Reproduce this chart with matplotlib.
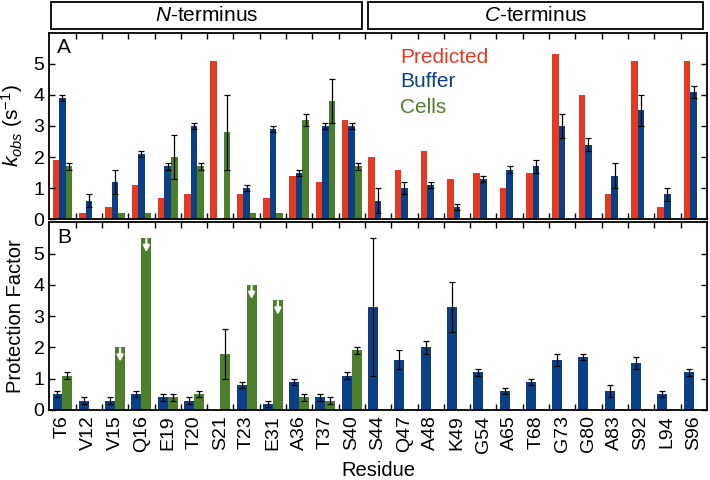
import matplotlib
matplotlib.use('Agg')
import matplotlib.pyplot as plt
from matplotlib.patches import Rectangle
import numpy as np

plt.rcParams['font.family'] = ['Liberation Sans', 'DejaVu Sans']
plt.rcParams['mathtext.fontset'] = 'custom'
plt.rcParams['mathtext.rm'] = 'Liberation Sans'
plt.rcParams['mathtext.it'] = 'Liberation Sans:italic'

residues = ['T6', 'V12', 'V15', 'Q16', 'E19', 'T20', 'S21', 'T23', 'E31', 'A36', 'T37', 'S40',
            'S44', 'Q47', 'A48', 'K49', 'G54', 'A65', 'T68', 'G73', 'G80', 'A83', 'S92', 'L94', 'S96']

# panel A: k_obs (s^-1)
k_pred = [1.9, 0.2, 0.4, 1.1, 0.7, 0.8, 5.1, 0.8, 0.7, 1.4, 1.2, 3.2,
          2.0, 1.6, 2.2, 1.3, 1.5, 1.0, 1.5, 5.3, 4.0, 0.8, 5.1, 0.4, 5.1]
k_buf = [3.9, 0.6, 1.2, 2.1, 1.7, 3.0, 0.0, 1.0, 2.9, 1.5, 3.0, 3.0,
         0.6, 1.0, 1.1, 0.4, 1.3, 1.6, 1.7, 3.0, 2.4, 1.4, 3.5, 0.8, 4.1]
k_buf_err = [0.1, 0.2, 0.4, 0.1, 0.1, 0.1, 0.0, 0.1, 0.1, 0.1, 0.1, 0.1,
             0.4, 0.2, 0.1, 0.1, 0.1, 0.1, 0.2, 0.4, 0.2, 0.4, 0.5, 0.2, 0.2]
k_cell = [1.7, 0.0, 0.2, 0.2, 2.0, 1.7, 2.8, 0.2, 0.2, 3.2, 3.8, 1.7]
k_cell_err = [0.1, 0.0, 0.0, 0.0, 0.7, 0.1, 1.2, 0.0, 0.0, 0.2, 0.7, 0.1]

# panel B: protection factor
pf_buf = [0.5, 0.3, 0.3, 0.5, 0.4, 0.3, 0.0, 0.8, 0.2, 0.9, 0.4, 1.1,
          3.3, 1.6, 2.0, 3.3, 1.2, 0.6, 0.9, 1.6, 1.7, 0.6, 1.5, 0.5, 1.2]
pf_buf_err = [0.1, 0.1, 0.1, 0.1, 0.1, 0.1, 0.0, 0.1, 0.1, 0.1, 0.1, 0.1,
              2.2, 0.3, 0.2, 0.8, 0.1, 0.1, 0.1, 0.2, 0.1, 0.2, 0.2, 0.1, 0.1]
pf_cell = [1.1, 0.0, 2.0, 5.5, 0.4, 0.5, 1.8, 4.0, 3.5, 0.4, 0.3, 1.9]
pf_cell_err = [0.1, 0.0, 0.0, 0.0, 0.1, 0.1, 0.8, 0.0, 0.0, 0.1, 0.1, 0.1]
# residues where the cells value is only an upper bound (arrow)
upper_bound = ['V15', 'Q16', 'T23', 'E31']

red = '#e53a22'
blue = '#0b3f86'
green = '#4c7f2b'

x = np.arange(len(residues))
xc = np.arange(len(k_cell))

fig = plt.figure(figsize=(7.1, 4.8), dpi=100)
ax1 = fig.add_axes([0.0695, 0.543, 0.926, 0.389])
ax2 = fig.add_axes([0.0695, 0.146, 0.926, 0.391])

err_kw = dict(fmt='none', ecolor='black', elinewidth=0.9, capsize=2.5, capthick=0.9)


def errbars(ax, xs, vals, errs):
    # only draw bars that have an error value
    xs, vals, errs = np.asarray(xs, float), np.asarray(vals), np.asarray(errs)
    m = errs > 0
    ax.errorbar(xs[m], vals[m], yerr=errs[m], **err_kw)


# panel A
w = 0.25
ax1.bar(x - w, k_pred, w, color=red)
ax1.bar(x, k_buf, w, color=blue)
errbars(ax1, x, k_buf, k_buf_err)
ax1.bar(xc + w, k_cell, w, color=green)
errbars(ax1, xc + w, k_cell, k_cell_err)

# panel B
w2 = 0.38
ax2.bar(x - w2 / 2, pf_buf, w2, color=blue)
errbars(ax2, x - w2 / 2, pf_buf, pf_buf_err)
ax2.bar(xc + w2 / 2, pf_cell, w2, color=green)
errbars(ax2, xc + w2 / 2, pf_cell, pf_cell_err)
for r in upper_bound:
    i = residues.index(r)
    top = pf_cell[i]
    ax2.annotate('', xy=(i + w2 / 2, top - 0.46), xytext=(i + w2 / 2, top - 0.03),
                 arrowprops=dict(arrowstyle='-|>', color='white', lw=1.6,
                                 mutation_scale=9, shrinkA=0, shrinkB=0))

for ax in (ax1, ax2):
    ax.set_xlim(-0.5, len(residues) - 0.5)
    ax.set_ylim(0, 6)
    ax.set_yticks(range(6))
    ax.set_xticks(x)
    ax.set_xticks(np.arange(len(residues) - 1) + 0.5, minor=True)
    ax.tick_params(axis='x', which='major', length=0)
    ax.tick_params(axis='x', which='minor', direction='in', length=4.5, width=1,
                   top=True, bottom=True)
    ax.tick_params(axis='y', direction='in', length=4.5, width=1, right=True,
                   labelsize=14)
    for s in ax.spines.values():
        s.set_linewidth(1.3)

ax1.set_xticklabels([])
ax2.set_xticklabels(residues, rotation=90, fontsize=14)
ax2.tick_params(axis='x', which='major', pad=4)

ax1.set_ylabel(r'$k_{obs}$ (s$^{-1}$)', fontsize=15, labelpad=6)
ax2.set_ylabel('Protection Factor', fontsize=14.5, labelpad=6)
ax2.set_xlabel('Residue', fontsize=14.5, labelpad=6)

ax1.text(0.012, 0.97, 'A', transform=ax1.transAxes, fontsize=15, va='top')
ax2.text(0.012, 0.97, 'B', transform=ax2.transAxes, fontsize=15, va='top')

ax1.text(0.533, 0.837, 'Predicted', color=red, transform=ax1.transAxes,
         fontsize=15, va='baseline')
ax1.text(0.533, 0.709, 'Buffer', color=blue, transform=ax1.transAxes,
         fontsize=15, va='baseline')
ax1.text(0.533, 0.570, 'Cells', color=green, transform=ax1.transAxes,
         fontsize=15, va='baseline')

# header boxes above panel A
for x0, x1, label in [(-0.45, 11.4, r'$N$-terminus'), (11.6, 24.35, r'$C$-terminus')]:
    box = Rectangle((x0, 1.02), x1 - x0, 0.142, transform=ax1.get_xaxis_transform(),
                    fill=False, lw=1.3, edgecolor='black', clip_on=False)
    ax1.add_patch(box)
    ax1.text((x0 + x1) / 2, 1.02 + 0.071, label, transform=ax1.get_xaxis_transform(),
             ha='center', va='center', fontsize=15)

fig.savefig('out.png', dpi=100)
